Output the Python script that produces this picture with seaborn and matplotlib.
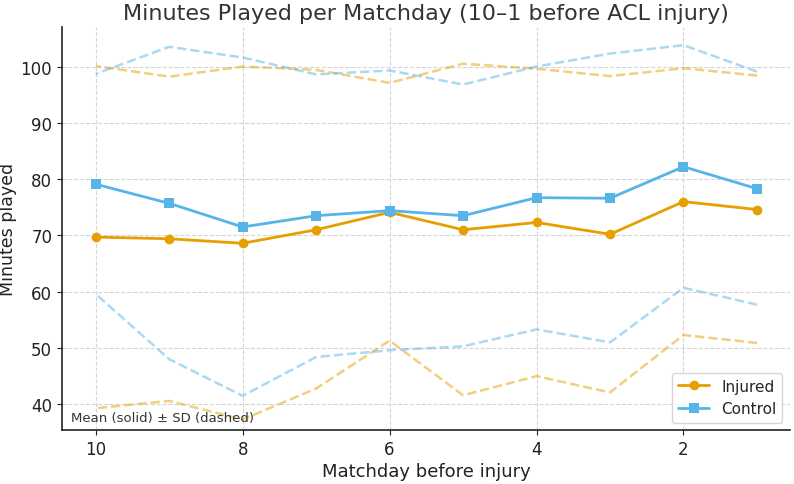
import numpy as np
import pandas as pd
import seaborn as sns
import matplotlib.pyplot as plt

matchday = [10, 9, 8, 7, 6, 5, 4, 3, 2, 1]

injured_mean = [69.7, 69.4, 68.6, 71.0, 74.1, 71.0, 72.3, 70.2, 76.0, 74.6]
injured_upper = [100.1, 98.2, 100.0, 99.4, 97.1, 100.5, 99.6, 98.3, 99.7, 98.4]
injured_lower = [39.3, 40.6, 37.3, 42.8, 51.3, 41.6, 45.0, 42.1, 52.3, 50.9]

control_mean = [79.1, 75.7, 71.5, 73.5, 74.4, 73.5, 76.7, 76.6, 82.2, 78.3]
control_upper = [98.7, 103.5, 101.6, 98.6, 99.3, 96.8, 100.0, 102.3, 103.8, 99.1]
control_lower = [59.6, 48.0, 41.5, 48.4, 49.6, 50.3, 53.3, 51.0, 60.7, 57.7]

sns.set_style('ticks')
plt.rcParams['font.family'] = ['DejaVu Sans']

fig, ax = plt.subplots(figsize=(7.94, 4.85), dpi=100)

colors = {'Injured': '#E69F00', 'Control': '#56B4E9'}

means = pd.DataFrame({
    'matchday': matchday * 2,
    'minutes': injured_mean + control_mean,
    'group': ['Injured'] * 10 + ['Control'] * 10,
})

sns.lineplot(data=means, x='matchday', y='minutes', hue='group', style='group',
             markers={'Injured': 'o', 'Control': 's'}, dashes=False,
             palette=colors, linewidth=2, markersize=7, markeredgewidth=0,
             ax=ax)

# SD bands as dashed lines
for vals, grp in [(injured_upper, 'Injured'), (injured_lower, 'Injured'),
                  (control_upper, 'Control'), (control_lower, 'Control')]:
    sns.lineplot(x=matchday, y=vals, color=colors[grp], linestyle='--',
                 linewidth=1.8, alpha=0.5, ax=ax, legend=False)

ax.invert_xaxis()
ax.set_xticks([10, 8, 6, 4, 2])
ax.set_ylim(35.4, 107)
ax.set_xlim(10.46, 0.55)

ax.grid(True, linestyle='--', color='#d5d5d5', linewidth=0.8)
sns.despine(ax=ax)
for s in ['left', 'bottom']:
    ax.spines[s].set_color('#222222')
    ax.spines[s].set_linewidth(1.2)

ax.tick_params(labelsize=12, colors='#222222')
ax.set_title('Minutes Played per Matchday (10\u20131 before ACL injury)', fontsize=16, color='#333333')
ax.set_xlabel('Matchday before injury', fontsize=13, color='#222222', labelpad=3)
ax.set_ylabel('Minutes played', fontsize=12.5, color='#222222')
ax.yaxis.set_label_coords(-0.062, 0.5)

ax.text(0.012, 0.015, 'Mean (solid) \u00b1 SD (dashed)', transform=ax.transAxes,
        fontsize=9.5, color='#333333', ha='left', va='bottom')

leg = ax.legend(loc='lower right', fontsize=11, frameon=True)
leg.set_title(None)

fig.subplots_adjust(left=0.078, right=0.995, bottom=0.111, top=0.942)
fig.savefig('out.png', dpi=100)
